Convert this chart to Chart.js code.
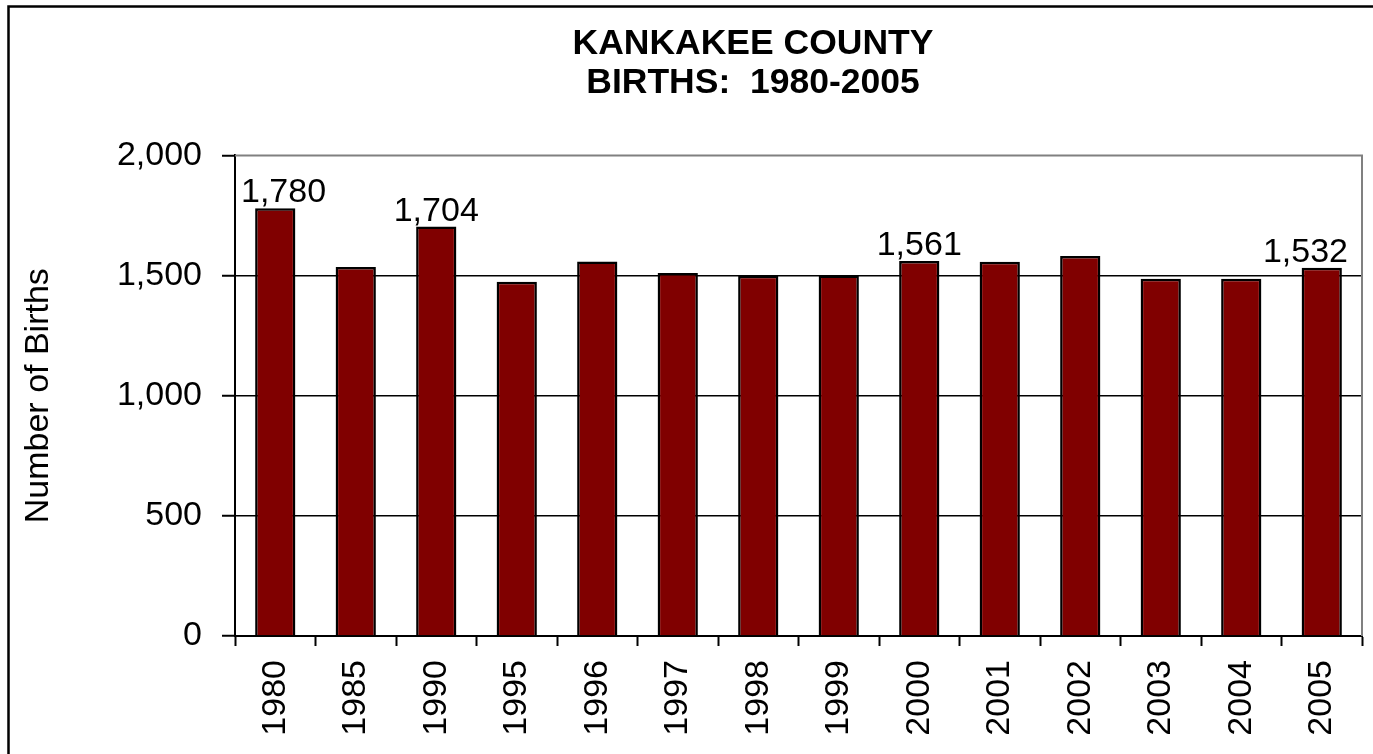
<!DOCTYPE html>
<html>
<head>
<meta charset="utf-8">
<script src="https://cdn.jsdelivr.net/npm/chart.js@4/dist/chart.umd.min.js"></script>
<style>
  html, body { margin: 0; padding: 0; background: #fff; overflow: hidden; }
  canvas { display: block; }
</style>
</head>
<body>
<canvas id="c" width="1506" height="754"></canvas>
<script>
const years = ['1980','1985','1990','1995','1996','1997','1998','1999','2000','2001','2002','2003','2004','2005'];
const births = [1780, 1536, 1704, 1474, 1558, 1511, 1499, 1500, 1561, 1557, 1581, 1487, 1487, 1532];
const labelledYears = ['1980', '1990', '2000', '2005'];
const yTicks = [0, 500, 1000, 1500, 2000];
const titleLines = ['KANKAKEE COUNTY', 'BIRTHS:  1980-2005'];
const yAxisTitle = 'Number of Births';

const FONT = "'Liberation Sans', Arial, sans-serif";

const backgroundAndFrame = {
  id: 'backgroundAndFrame',
  beforeDraw(chart) {
    const ctx = chart.ctx;
    ctx.save();
    ctx.fillStyle = '#fff';
    ctx.fillRect(0, 0, chart.width, chart.height);
    ctx.strokeStyle = '#000';
    ctx.lineWidth = 2.5;
    ctx.strokeRect(8.5, 6.5, chart.width + 20, chart.height + 20);
    ctx.restore();
  },
  afterDraw(chart) {
    const a = chart.chartArea;
    const ctx = chart.ctx;
    ctx.save();
    ctx.strokeStyle = '#808080';
    ctx.lineWidth = 2;
    ctx.beginPath();
    ctx.moveTo(a.left, a.top);
    ctx.lineTo(a.right, a.top);
    ctx.lineTo(a.right, a.bottom);
    ctx.stroke();
    ctx.restore();
  }
};

const valueLabels = {
  id: 'valueLabels',
  afterDatasetsDraw(chart) {
    const ctx = chart.ctx;
    const meta = chart.getDatasetMeta(0);
    const a = chart.chartArea;
    ctx.save();
    ctx.font = '34px ' + FONT;
    ctx.fillStyle = '#000';
    ctx.textAlign = 'center';
    ctx.textBaseline = 'alphabetic';
    meta.data.forEach((el, i) => {
      if (!labelledYears.includes(years[i])) return;
      const txt = births[i].toLocaleString('en-US');
      const w = ctx.measureText(txt).width;
      let x = el.x;
      x = Math.max(x, a.left + 6 + w / 2);
      x = Math.min(x, a.right - 14 - w / 2);
      ctx.fillText(txt, x, el.y - 6);
    });
    ctx.restore();
  }
};

new Chart(document.getElementById('c'), {
  type: 'bar',
  data: {
    labels: years,
    datasets: [{
      data: births,
      backgroundColor: '#800000',
      borderColor: '#000',
      borderWidth: 2.5,
      categoryPercentage: 1.0,
      barPercentage: 0.5
    }]
  },
  options: {
    responsive: false,
    animation: false,
    layout: { padding: { left: 10, right: 10, top: 0, bottom: 10 } },
    plugins: {
      legend: { display: false },
      tooltip: { enabled: false },
      title: {
        display: true,
        text: titleLines,
        color: '#000',
        font: { family: FONT, size: 35.5, weight: 'bold', lineHeight: 1.09 },
        padding: { top: 25, bottom: 53 }
      }
    },
    scales: {
      x: {
        offset: true,
        grid: {
          offset: true,
          drawOnChartArea: false,
          drawTicks: true,
          tickLength: 10,
          tickColor: '#000',
          tickWidth: 2
        },
        border: { display: true, color: '#000', width: 2 },
        ticks: {
          color: '#000',
          font: { family: FONT, size: 34 },
          minRotation: 90,
          maxRotation: 90,
          padding: 14,
          autoSkip: false
        },
        afterFit(scale) { scale.height = 108; }
      },
      y: {
        min: 0,
        max: 2000,
        afterBuildTicks(scale) { scale.ticks = yTicks.map(v => ({ value: v })); },
        grid: {
          color: ctx => (ctx.tick && ctx.tick.value === 2000) ? 'rgba(0,0,0,0)' : '#000',
          lineWidth: 1.5,
          tickLength: 13,
          tickColor: '#000',
          tickWidth: 2
        },
        border: { display: true, color: '#000', width: 2 },
        ticks: {
          color: '#000',
          font: { family: FONT, size: 34 },
          padding: 20,
          callback: v => Number(v).toLocaleString('en-US')
        },
        title: {
          display: true,
          text: yAxisTitle,
          color: '#000',
          font: { family: FONT, size: 34, lineHeight: 1.2 },
          padding: { top: 8, bottom: 0 }
        },
        afterFit(scale) { scale.width = 225; }
      },
      ySpacer: {
        position: 'right',
        display: true,
        min: 0,
        max: 2000,
        grid: { display: false, drawOnChartArea: false },
        border: { display: false },
        ticks: { display: false },
        afterFit(scale) { scale.width = 134; }
      }
    }
  },
  plugins: [backgroundAndFrame, valueLabels]
});
</script>
</body>
</html>
